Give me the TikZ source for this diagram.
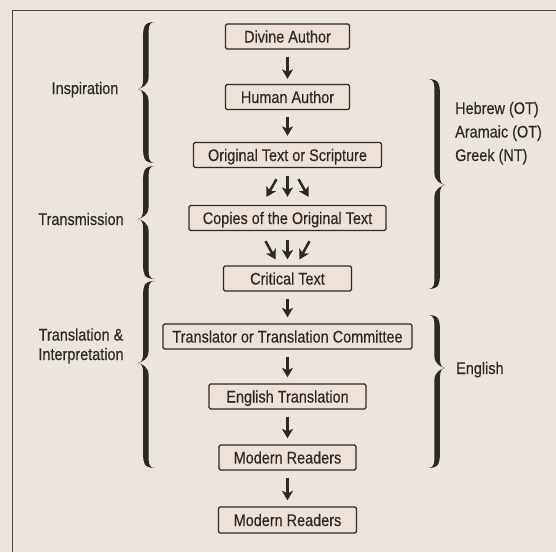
\documentclass[tikz,border=0pt]{standalone}
\usepackage{fontspec}
\setmainfont{Liberation Sans}[FakeStretch=0.86, FakeBold=0.35]
\usetikzlibrary{arrows.meta,calc}
\definecolor{paper}{HTML}{ECE5DE}
\definecolor{boxfill}{HTML}{EEE1D7}
\definecolor{ink}{HTML}{2B2826}
\definecolor{framec}{HTML}{4A4643}
\newcommand\bracefill[2]{%
 \fill[ink] (9,0) .. controls (-2.8,0) and (-2.8,6) .. (-2.8,14)
  -- (-2.8,{#1-10}) .. controls (-2.8,{#1-3}) and (-5,#1) .. (-8,#1)
  .. controls (-5,#1) and (-2.8,{#1+3}) .. (-2.8,{#1+10})
  -- (-2.8,{#2-14}) .. controls (-2.8,{#2-6}) and (-2.8,#2) .. (9,#2)
  .. controls (2,#2) and (2.6,{#2-6}) .. (2.6,{#2-14})
  -- (2.6,{#1+12}) .. controls (2.6,{#1+4}) and (-4,{#1+1}) .. (-8,#1)
  .. controls (-4,{#1-1}) and (2.6,{#1-4}) .. (2.6,{#1-12})
  -- (2.6,14) .. controls (2.6,6) and (2,0) .. (9,0) -- cycle;}
\begin{document}
\begin{tikzpicture}[x=1pt,y=-1pt,
  font=\fontsize{16.8}{18}\selectfont, text=ink,
  stepbox/.style={draw=ink, fill=boxfill, line width=1.3pt, rounded corners=1.5pt,
    minimum height=25pt, inner sep=0pt, text height=12pt, text depth=0pt},
  flow/.style={draw=ink, line width=2.5pt, -{Stealth[length=9.5pt,width=11pt,inset=2.5pt]}},
  lab/.style={inner sep=0pt}]
\fill[paper] (0,0) rectangle (556,552);
\useasboundingbox (0,0) rectangle (556,552);
\draw[framec, line width=1.8pt] (12.5,552) -- (12.5,10.5) -- (556,10.5);

% boxes
\node[stepbox, minimum width=124pt] (n1) at (287.5,36.5) {Divine Author};
\node[stepbox, minimum width=124pt] (n2) at (287.5,97) {Human Author};
\node[stepbox, minimum width=188pt] (n3) at (287.5,155) {Original Text or Scripture};
\node[stepbox, minimum width=197pt] (n4) at (287.5,218) {Copies of the Original Text};
\node[stepbox, minimum width=128pt] (n5) at (287.5,278.5) {Critical Text};
\node[stepbox, minimum width=249pt] (n6) at (287.5,336.5) {Translator or Translation Committee};
\node[stepbox, minimum width=157pt] (n7) at (287.5,396.5) {English Translation};
\node[stepbox, minimum width=137pt] (n8) at (287.5,457.5) {Modern Readers};
\node[stepbox, minimum width=138pt, minimum height=26pt] (n9) at (287.5,520) {Modern Readers};

% arrows
\draw[flow, shorten <=7pt, shorten >=5pt] (n1.south) -- (n2.north);
\draw[flow, shorten <=7pt, shorten >=6pt] (n2.south) -- (n3.north);
\draw[flow] ($(n3.south)+(-11,11)$) -- ($(n4.north)+(-21,-8)$);
\draw[flow] ($(n3.south)+(0,8)$) -- ($(n4.north)+(0,-8)$);
\draw[flow] ($(n3.south)+(11,11)$) -- ($(n4.north)+(21,-8)$);
\draw[flow] ($(n4.south)+(-22,10)$) -- ($(n5.north)+(-12,-6)$);
\draw[flow] ($(n4.south)+(0,9)$) -- ($(n5.north)+(0,-6)$);
\draw[flow] ($(n4.south)+(22,10)$) -- ($(n5.north)+(12,-6)$);
\draw[flow, shorten <=7pt, shorten >=6pt] (n5.south) -- (n6.north);
\draw[flow, shorten <=7pt, shorten >=6pt] (n6.south) -- (n7.north);
\draw[flow, shorten <=7pt, shorten >=6pt] (n7.south) -- (n8.north);
\draw[flow, shorten <=7pt, shorten >=6pt] (n8.south) -- (n9.north);

% left braces
\begin{scope}[shift={(146,22)}]\bracefill{67}{141}\end{scope}
\begin{scope}[shift={(146,166)}]\bracefill{53}{113}\end{scope}
\begin{scope}[shift={(146,281)}]\bracefill{82}{187}\end{scope}
% right braces
\begin{scope}[shift={(437,79)}, xscale=-1]\bracefill{106}{210}\end{scope}
\begin{scope}[shift={(437,315)}, xscale=-1]\bracefill{53}{153}\end{scope}

% labels
\node[lab, anchor=base] (l1) at (85,94) {Inspiration};
\node[lab, anchor=base] (l2) at (81,225) {Transmission};
\node[lab, anchor=base, align=center, font=\fontsize{16.8}{19.5}\selectfont] (l3) at (81,360) {Translation \&\\Interpretation};
\node[lab, anchor=base west, align=left, font=\fontsize{16.8}{23.5}\selectfont] (r1) at (455,161) {Hebrew (OT)\\Aramaic (OT)\\Greek (NT)};
\node[lab, anchor=base west] (r2) at (456,374) {English};
\end{tikzpicture}
\end{document}
